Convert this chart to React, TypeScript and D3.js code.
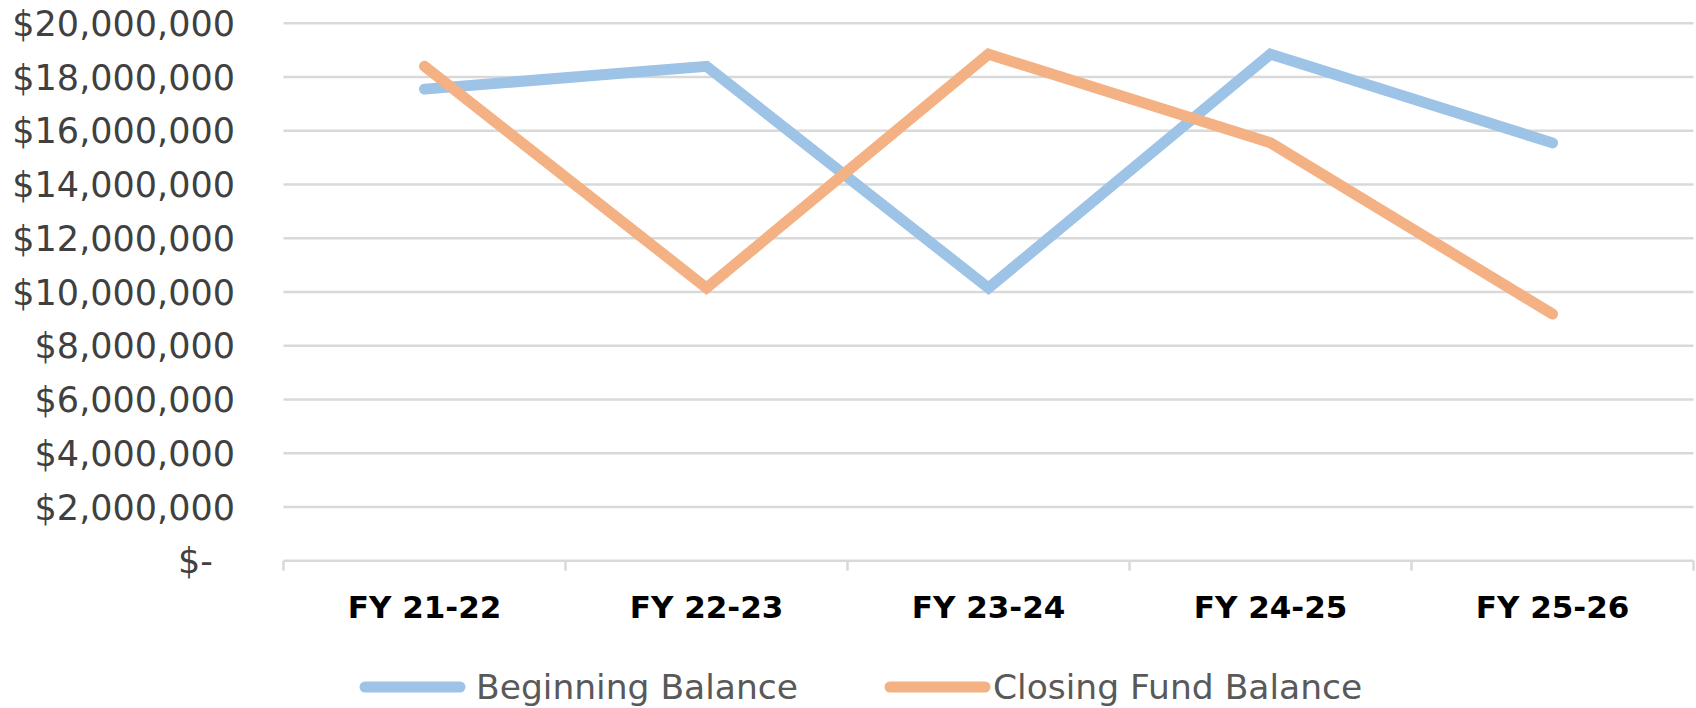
import React, { useEffect, useRef } from 'react';
import * as d3 from 'd3';

const categories = ['FY 21-22', 'FY 22-23', 'FY 23-24', 'FY 24-25', 'FY 25-26'];
const beginningBalance = [17550000, 18400000, 10150000, 18850000, 15550000];
const closingFundBalance = [18400000, 10150000, 18850000, 15550000, 9180000];
const yTicks = [0, 2000000, 4000000, 6000000, 8000000, 10000000, 12000000, 14000000, 16000000, 18000000, 20000000];
const yTickLabels = ['$-', '$2,000,000', '$4,000,000', '$6,000,000', '$8,000,000', '$10,000,000', '$12,000,000', '$14,000,000', '$16,000,000', '$18,000,000', '$20,000,000'];
const seriesNames = ['Beginning Balance', 'Closing Fund Balance'];
const seriesColors = ['#9DC3E6', '#F4B183'];

export default function App() {
  const ref = useRef<SVGSVGElement>(null);

  useEffect(() => {
    const svg = d3.select(ref.current);
    svg.selectAll('*').remove();
    const width = 1696;
    const height = 708;
    svg.attr('width', width).attr('height', height).attr('viewBox', `0 0 ${width} ${height}`);

    const x = d3.scaleBand<string>().domain(categories).range([283.5, 1693.5]).padding(0);
    const y = d3.scaleLinear().domain([0, 20000000]).range([560.7, 23.3]);
    const cx = (c: string) => (x(c) as number) + x.bandwidth() / 2;

    // gridlines
    svg
      .append('g')
      .selectAll('line')
      .data(yTicks)
      .join('line')
      .attr('x1', 283.5)
      .attr('x2', 1693.5)
      .attr('y1', (d) => y(d))
      .attr('y2', (d) => y(d))
      .attr('stroke', '#D9D9D9')
      .attr('stroke-width', 2.5);

    // category tick marks
    const edges = categories.map((c) => x(c) as number).concat([1693.5]);
    svg
      .append('g')
      .selectAll('line')
      .data(edges)
      .join('line')
      .attr('x1', (d) => d)
      .attr('x2', (d) => d)
      .attr('y1', y(0))
      .attr('y2', y(0) + 10)
      .attr('stroke', '#D9D9D9')
      .attr('stroke-width', 2.5);

    // y labels
    svg
      .append('g')
      .selectAll('text')
      .data(yTicks)
      .join('text')
      .attr('x', (d) => (d === 0 ? 213 : 235))
      .attr('y', (d) => y(d))
      .attr('dy', '0.36em')
      .attr('text-anchor', 'end')
      .attr('font-family', 'DejaVu Sans')
      .attr('font-size', 35)
      .attr('fill', '#404040')
      .text((d, i) => yTickLabels[i]);

    // x labels
    svg
      .append('g')
      .selectAll('text')
      .data(categories)
      .join('text')
      .attr('x', (d) => cx(d))
      .attr('y', 618)
      .attr('text-anchor', 'middle')
      .attr('font-family', 'DejaVu Sans')
      .attr('font-weight', 'bold')
      .attr('font-size', 31)
      .attr('fill', '#000')
      .text((d) => d);

    const line = d3
      .line<number>()
      .x((d, i) => cx(categories[i]))
      .y((d) => y(d));

    [beginningBalance, closingFundBalance].forEach((vals, i) => {
      svg
        .append('path')
        .datum(vals)
        .attr('fill', 'none')
        .attr('stroke', seriesColors[i])
        .attr('stroke-width', 11)
        .attr('stroke-linecap', 'round')
        .attr('stroke-linejoin', 'miter')
        .attr('d', line);
    });

    // legend
    const legendX = [360, 885];
    const legendY = 687;
    const legend = svg.append('g');
    seriesNames.forEach((name, i) => {
      legend
        .append('line')
        .attr('x1', legendX[i] + 5)
        .attr('x2', legendX[i] + 100)
        .attr('y1', legendY)
        .attr('y2', legendY)
        .attr('stroke', seriesColors[i])
        .attr('stroke-width', 11)
        .attr('stroke-linecap', 'round');
      legend
        .append('text')
        .attr('x', legendX[i] + (i === 0 ? 116 : 108))
        .attr('y', legendY)
        .attr('dy', '0.34em')
        .attr('font-family', 'DejaVu Sans')
        .attr('font-size', 34.5)
        .attr('fill', '#595959')
        .text(name);
    });
  }, []);

  return <svg ref={ref} style={{ position: 'absolute', left: 0, top: 0, background: '#fff' }}></svg>;
}
